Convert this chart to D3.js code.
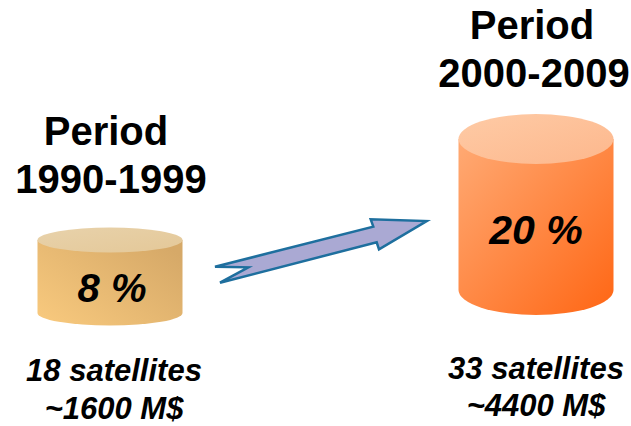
<!DOCTYPE html>
<html>
<head>
<meta charset="utf-8">
<script src="https://cdn.jsdelivr.net/npm/d3@7"></script>
<style>
  body { margin: 0; background: #fff; }
  text { font-family: "Liberation Sans", Arial, sans-serif; font-weight: bold; fill: #000; }
</style>
</head>
<body>
<div id="graph"></div>
<script>
//************ data ************//
var periods    = ["1990-1999", "2000-2009"];
var shares     = [8, 20];                 // % share
var satellites = [18, 33];
var costs      = [1600, 4400];            // M$

//************ layout ************//
var width = 631,
    height = 426;

var svg = d3.select('#graph')
  .append('svg')
    .attr('width', width)
    .attr('height', height);

var defs = svg.append('defs');

// x centre of each cylinder
var x = d3.scalePoint().domain(periods).range([110, 536]);
// body height, ellipse radii and bottom position driven by the share
var bodyH  = d3.scaleLinear().domain([8, 20]).range([73, 151]);
var rxS    = d3.scaleLinear().domain([8, 20]).range([72.5, 77.5]);
var ryS    = d3.scaleLinear().domain([8, 20]).range([12.5, 25]);
var bottomY = d3.scaleLinear().domain([8, 20]).range([313, 290]);

// colours for each cylinder
var palette = [
  {light: '#f9ca7e', dark: '#d6a968', top: '#e8d2ab', topDark: '#e4c898'},
  {light: '#ffaa74', dark: '#ff6614', top: '#fecba6', topDark: '#fdb78c'}
];

palette.forEach(function(p, i) {
  var g = defs.append('linearGradient').attr('id', 'body' + i);
  if (i == 0) {
    g.attr('x1', '0%').attr('y1', '100%').attr('x2', '100%').attr('y2', '20%');
  } else {
    g.attr('x1', '0%').attr('y1', '0%').attr('x2', '100%').attr('y2', '100%');
  }
  g.append('stop').attr('offset', '0%').attr('stop-color', p.light);
  g.append('stop').attr('offset', '100%').attr('stop-color', p.dark);

  var t = defs.append('linearGradient').attr('id', 'top' + i)
    .attr('x1', '0%').attr('y1', '0%').attr('x2', '100%').attr('y2', '100%');
  t.append('stop').attr('offset', '0%').attr('stop-color', p.top);
  t.append('stop').attr('offset', '100%').attr('stop-color', p.topDark);
});

var rows = periods.map(function(p, i) {
  return {period: p, share: shares[i], sat: satellites[i], cost: costs[i], i: i};
});

var cyl = svg.selectAll('g.cyl').data(rows).enter().append('g').attr('class', 'cyl');

// body: side + bottom half ellipse
cyl.append('path')
  .attr('d', function(d) {
    var cx = x(d.period), rx = rxS(d.share), ry = ryS(d.share);
    var yb = bottomY(d.share), yt = yb - bodyH(d.share);
    return 'M' + (cx - rx) + ',' + yt +
           'L' + (cx - rx) + ',' + yb +
           'A' + rx + ',' + ry + ' 0 0 0 ' + (cx + rx) + ',' + yb +
           'L' + (cx + rx) + ',' + yt + 'Z';
  })
  .attr('fill', function(d) { return 'url(#body' + d.i + ')'; });

// top ellipse
cyl.append('ellipse')
  .attr('cx', function(d) { return x(d.period); })
  .attr('cy', function(d) { return bottomY(d.share) - bodyH(d.share); })
  .attr('rx', function(d) { return rxS(d.share); })
  .attr('ry', function(d) { return ryS(d.share); })
  .attr('fill', function(d) { return 'url(#top' + d.i + ')'; });

// share label inside cylinder
cyl.append('text')
  .attr('x', function(d) { return x(d.period) + (d.i == 0 ? 2 : 0); })
  .attr('y', function(d) { return d.i == 0 ? 302 : 244; })
  .attr('text-anchor', 'middle')
  .style('font-style', 'italic')
  .style('font-size', function(d) { return d.i == 0 ? '40px' : '41px'; })
  .text(function(d) { return d.share + ' %'; });

// period titles
var titleTop = [145, 39];
cyl.append('text')
  .attr('x', function(d) { return x(d.period) - 4; })
  .attr('y', function(d) { return titleTop[d.i]; })
  .attr('text-anchor', 'middle')
  .style('font-size', '40px')
  .text('Period');
cyl.append('text')
  .attr('x', function(d) { return x(d.period) + (d.i == 0 ? 1 : -2); })
  .attr('y', function(d) { return titleTop[d.i] + 48; })
  .attr('text-anchor', 'middle')
  .style('font-size', '40px')
  .text(function(d) { return d.period; });

// satellites and cost
cyl.append('text')
  .attr('x', function(d) { return x(d.period) + (d.i == 0 ? 4 : 0); })
  .attr('y', function(d) { return d.i == 0 ? 381 : 379; })
  .attr('text-anchor', 'middle')
  .style('font-style', 'italic')
  .style('font-size', '31px')
  .text(function(d) { return d.sat + ' satellites'; });
cyl.append('text')
  .attr('x', function(d) { return x(d.period) + (d.i == 0 ? 4 : 0); })
  .attr('y', function(d) { return d.i == 0 ? 419 : 416; })
  .attr('text-anchor', 'middle')
  .style('font-style', 'italic')
  .style('font-size', '31px')
  .text(function(d) { return '~' + d.cost + ' M$'; });

//************ arrow between the periods ************//
var arrowPts = [
  [215, 266.7], [248.3, 267.3], [220, 282.7], [376.7, 242.3],
  [379, 249.3], [426.7, 221], [370.7, 219.3], [373.3, 226.7]
];
svg.append('path')
  .attr('d', d3.line()(arrowPts) + 'Z')
  .attr('fill', '#aaa9d3')
  .attr('stroke', '#1e6f9e')
  .attr('stroke-width', 2.5)
  .attr('stroke-linejoin', 'miter');
</script>
</body>
</html>
